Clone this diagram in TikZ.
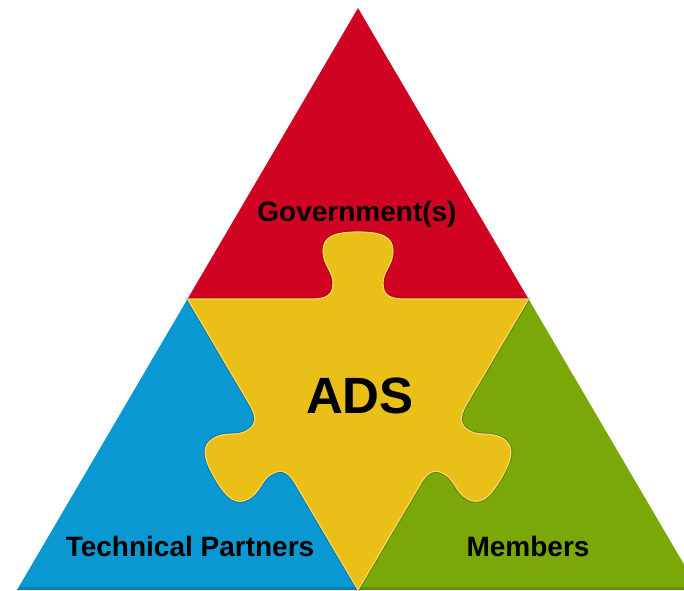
\documentclass[tikz,border=0pt]{standalone}
\usepackage{fontspec}
\setmainfont{Liberation Sans}
\definecolor{redc}{RGB}{209,3,34}
\definecolor{bluec}{RGB}{10,152,210}
\definecolor{greenc}{RGB}{121,168,8}
\definecolor{yellowc}{RGB}{234,192,24}
\definecolor{yellowl}{RGB}{246,215,95}
\tikzset{
  lab/.style={font=\bfseries\fontsize{28}{30}\selectfont, text=black, inner sep=0pt, anchor=base},
  bigl/.style={font=\bfseries\fontsize{51}{55}\selectfont, text=black, inner sep=0pt, anchor=base},
}
\begin{document}
\begin{tikzpicture}[x=1pt,y=1pt]
\useasboundingbox (0,0) rectangle (684,590);
\clip (0,0) rectangle (684,590);
\coordinate (T) at (358,582);
\coordinate (L) at (17,0);
\coordinate (R) at (699,0);
\coordinate (A) at (187.5,291);
\coordinate (B) at (528.5,291);
\coordinate (C) at (358,0);
% outer regions
\fill[redc] (T) -- (B) -- (A) -- cycle;
\fill[bluec] (A) -- (C) -- (L) -- cycle;
\fill[greenc] (B) -- (R) -- (C) -- cycle;
% darker bottom strip
\begin{scope}
  \clip (L) -- (T) -- (R) -- cycle;
  \fill[black, opacity=.15] (0,0) rectangle (684,3);
\end{scope}
% central puzzle piece
\filldraw[fill=yellowc, draw=yellowl, line width=1.2pt,
  preaction={draw=black, opacity=.22, line width=3pt}]
  (A)
  {[shift={(358,291)}]
    -- (-47,0) .. controls (-31,0) and (-25,4) .. (-25,16)
    .. controls (-25,28) and (-35,34) .. (-35,48)
    .. controls (-35,62) and (-24,67) .. (0,67)
    .. controls (24,67) and (35,62) .. (35,48)
    .. controls (35,34) and (25,28) .. (25,16)
    .. controls (25,4) and (31,0) .. (47,0)}
  -- (B)
  {[shift={(443.25,145.5)},rotate=-120]
    -- (-47,0) .. controls (-31,0) and (-25,4) .. (-25,16)
    .. controls (-25,28) and (-35,34) .. (-35,48)
    .. controls (-35,62) and (-24,67) .. (0,67)
    .. controls (24,67) and (35,62) .. (35,48)
    .. controls (35,34) and (25,28) .. (25,16)
    .. controls (25,4) and (31,0) .. (47,0)}
  -- (C)
  {[shift={(272.75,145.5)},rotate=120]
    -- (-47,0) .. controls (-31,0) and (-25,4) .. (-25,16)
    .. controls (-25,28) and (-35,34) .. (-35,48)
    .. controls (-35,62) and (-24,67) .. (0,67)
    .. controls (24,67) and (35,62) .. (35,48)
    .. controls (35,34) and (25,28) .. (25,16)
    .. controls (25,4) and (31,0) .. (47,0)}
  -- cycle;
% labels
\node[lab] (gov) at (357,369) {Government(s)};
\node[bigl] (ads) at (360,177) {ADS};
\node[lab] (tp) at (190,34) {Technical Partners};
\node[lab] (mem) at (528,34) {Members};
\end{tikzpicture}
\end{document}
